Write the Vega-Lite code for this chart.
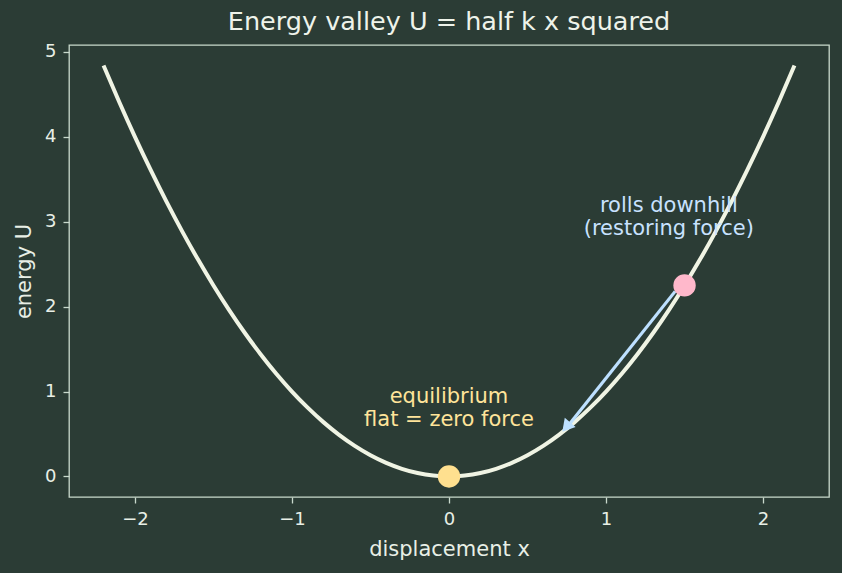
{
  "$schema": "https://vega.github.io/schema/vega-lite/v6.json",
  "width": 760,
  "height": 452,
  "autosize": {"type": "none"},
  "padding": {"left": 69, "top": 45, "right": 13, "bottom": 76},
  "background": "#2b3c35",
  "title": {
    "text": "Energy valley U = half k x squared",
    "font": "DejaVu Sans",
    "fontSize": 25.5,
    "fontWeight": "normal",
    "color": "#eef3ea",
    "offset": 7
  },
  "config": {
    "view": {"stroke": "#c9d9cc", "strokeWidth": 1.3},
    "font": "DejaVu Sans",
    "axis": {
      "grid": false,
      "domain": false,
      "tickColor": "#c9d9cc",
      "tickSize": 6,
      "tickWidth": 1.3,
      "labelColor": "#e8efe6",
      "labelFont": "DejaVu Sans",
      "labelFontSize": 18,
      "titleColor": "#e8efe6",
      "titleFont": "DejaVu Sans",
      "titleFontSize": 21,
      "titleFontWeight": "normal"
    }
  },
  "resolve": {"scale": {"color": "independent"}},
  "datasets": {
    "curve": [
      {"x": -2.2, "U": 4.84}, {"x": -2.1, "U": 4.41}, {"x": -2.0, "U": 4.0}, {"x": -1.9, "U": 3.61},
      {"x": -1.8, "U": 3.24}, {"x": -1.7, "U": 2.89}, {"x": -1.6, "U": 2.56}, {"x": -1.5, "U": 2.25},
      {"x": -1.4, "U": 1.96}, {"x": -1.3, "U": 1.69}, {"x": -1.2, "U": 1.44}, {"x": -1.1, "U": 1.21},
      {"x": -1.0, "U": 1.0}, {"x": -0.9, "U": 0.81}, {"x": -0.8, "U": 0.64}, {"x": -0.7, "U": 0.49},
      {"x": -0.6, "U": 0.36}, {"x": -0.5, "U": 0.25}, {"x": -0.4, "U": 0.16}, {"x": -0.3, "U": 0.09},
      {"x": -0.2, "U": 0.04}, {"x": -0.1, "U": 0.01}, {"x": 0.0, "U": 0.0}, {"x": 0.1, "U": 0.01},
      {"x": 0.2, "U": 0.04}, {"x": 0.3, "U": 0.09}, {"x": 0.4, "U": 0.16}, {"x": 0.5, "U": 0.25},
      {"x": 0.6, "U": 0.36}, {"x": 0.7, "U": 0.49}, {"x": 0.8, "U": 0.64}, {"x": 0.9, "U": 0.81},
      {"x": 1.0, "U": 1.0}, {"x": 1.1, "U": 1.21}, {"x": 1.2, "U": 1.44}, {"x": 1.3, "U": 1.69},
      {"x": 1.4, "U": 1.96}, {"x": 1.5, "U": 2.25}, {"x": 1.6, "U": 2.56}, {"x": 1.7, "U": 2.89},
      {"x": 1.8, "U": 3.24}, {"x": 1.9, "U": 3.61}, {"x": 2.0, "U": 4.0}, {"x": 2.1, "U": 4.41},
      {"x": 2.2, "U": 4.84}
    ],
    "points": [
      {"x": 0.0, "U": 0.0, "kind": "equilibrium"},
      {"x": 1.5, "U": 2.25, "kind": "displaced"}
    ],
    "arrow": [
      {"x": 1.44, "U": 2.18, "x2": 0.76, "U2": 0.6}
    ],
    "arrowhead": [
      {"x": 0.755, "U": 0.6}
    ],
    "labels": [
      {"x": 0.0, "U": 0.94, "text": "equilibrium\nflat = zero force", "kind": "equilibrium"},
      {"x": 1.4, "U": 3.19, "text": "rolls downhill\n(restoring force)", "kind": "displaced"}
    ]
  },
  "encoding": {
    "x": {
      "field": "x", "type": "quantitative",
      "scale": {"domain": [-2.42, 2.42], "nice": false, "zero": false},
      "axis": {"values": [-2, -1, 0, 1, 2], "title": "displacement x", "titlePadding": 10, "labelPadding": 7}
    },
    "y": {
      "field": "U", "type": "quantitative",
      "scale": {"domain": [-0.242, 5.082], "nice": false, "zero": false},
      "axis": {"values": [0, 1, 2, 3, 4, 5], "title": "energy U", "titlePadding": 10, "labelPadding": 7}
    }
  },
  "layer": [
    {
      "data": {"name": "curve"},
      "mark": {"type": "line", "color": "#f0f4e4", "strokeWidth": 4, "interpolate": "monotone"}
    },
    {
      "data": {"name": "arrow"},
      "mark": {"type": "rule", "color": "#bde0ff", "strokeWidth": 3.2},
      "encoding": {
        "x2": {"field": "x2"},
        "y2": {"field": "U2"}
      }
    },
    {
      "data": {"name": "arrowhead"},
      "mark": {"type": "point", "shape": "triangle", "filled": true, "color": "#bde0ff", "size": 200, "angle": 220, "opacity": 1}
    },
    {
      "data": {"name": "points"},
      "mark": {"type": "point", "filled": true, "size": 500, "opacity": 1},
      "encoding": {
        "color": {
          "field": "kind", "type": "nominal",
          "scale": {"domain": ["equilibrium", "displaced"], "range": ["#ffe08f", "#ffb8cb"]},
          "legend": null
        }
      }
    },
    {
      "data": {"name": "labels"},
      "mark": {"type": "text", "fontSize": 21, "lineBreak": "\n", "lineHeight": 23, "align": "center", "baseline": "middle", "font": "DejaVu Sans"},
      "encoding": {
        "text": {"field": "text"},
        "color": {
          "field": "kind", "type": "nominal",
          "scale": {"domain": ["equilibrium", "displaced"], "range": ["#ffe49a", "#c8e2ff"]},
          "legend": null
        }
      }
    }
  ]
}
